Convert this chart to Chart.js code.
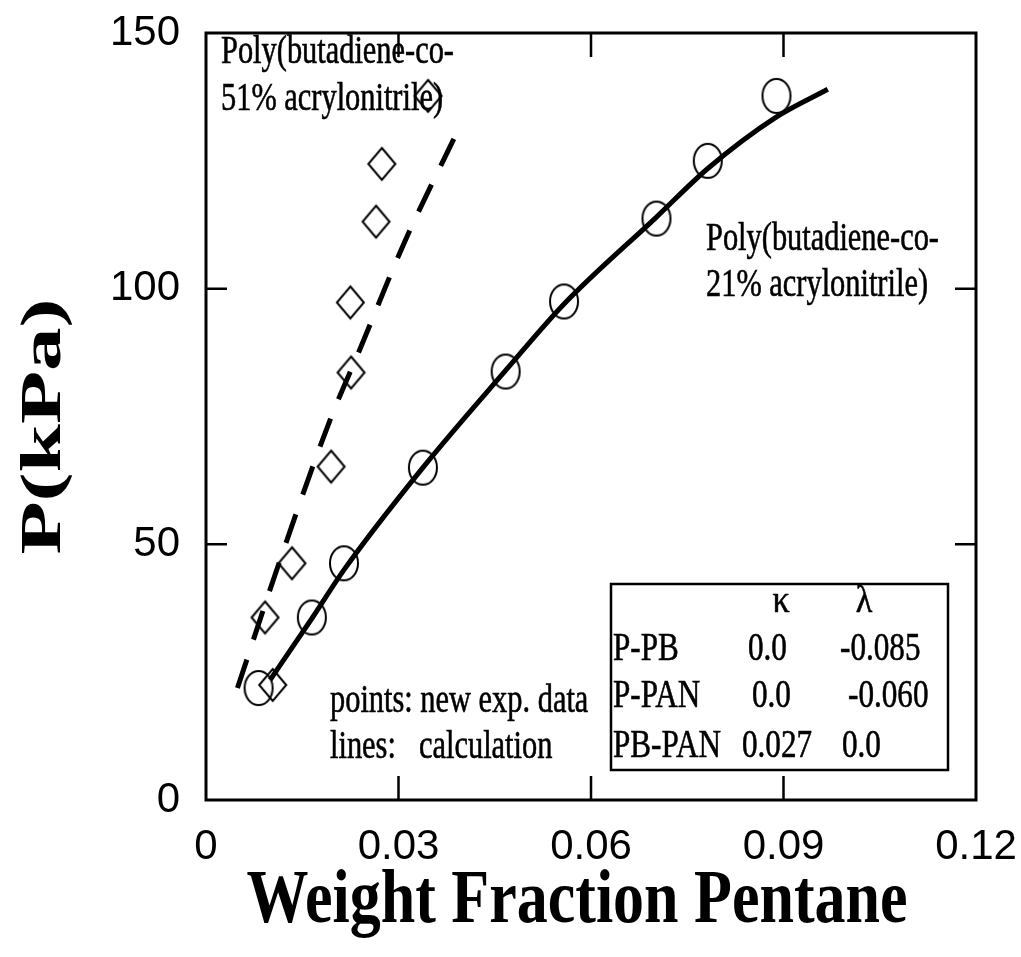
<!DOCTYPE html>
<html><head><meta charset="utf-8">
<script src="https://cdn.jsdelivr.net/npm/chart.js@4.4.0/dist/chart.umd.min.js"></script>
<style>html,body{margin:0;padding:0;background:#fff;} #wrap{width:1021px;height:957px;position:relative;}</style>
</head><body><div id="wrap"><canvas id="c"></canvas></div>
<script>
// ---- data ----
const xTickValues = [0, 0.03, 0.06, 0.09, 0.12];
const xTickLabels = ["0", "0.03", "0.06", "0.09", "0.12"];
const yTickValues = [0, 50, 100, 150];
const yTickLabels = ["0", "50", "100", "150"];
const xInnerTicks = [0.03, 0.06, 0.09];
const yInnerTicks = [50, 100];

// experimental points
const exp21X = [0.0082, 0.0165, 0.0215, 0.0338, 0.0467, 0.0558, 0.0702, 0.0782, 0.0889];
const exp21P = [21.9, 35.7, 46.3, 65.0, 83.8, 97.5, 113.7, 125.0, 137.7];
const exp51X = [0.0104, 0.0092, 0.0134, 0.0195, 0.0226, 0.0225, 0.0265, 0.0274, 0.0346];
const exp51P = [22.5, 35.7, 46.3, 65.2, 83.6, 97.3, 113.1, 124.4, 137.7];
// calculated curves
const calc21X = [0.0100, 0.0165, 0.0215, 0.0338, 0.0467, 0.0558, 0.0702, 0.0782, 0.0888, 0.0969];
const calc21P = [23.5, 35.5, 45.0, 65.0, 84.0, 97.0, 114.0, 123.5, 133.5, 139.0];
const calc51X = [0.0049, 0.0117, 0.0193, 0.0241, 0.0309, 0.0390];
const calc51P = [21.9, 47.5, 74.2, 88.5, 109.0, 130.3];

// text
const label51 = ["Poly(butadiene-co-", "51% acrylonitrile)"];
const label21 = ["Poly(butadiene-co-", "21% acrylonitrile)"];
const noteLines = ["points: new exp. data", "lines:", "calculation"];
const tableHeader = ["\u03BA", "\u03BB"];
const tableRows = ["P-PB", "P-PAN", "PB-PAN"];
const tableKappa = ["0.0", "0.0", "0.027"];
const tableLambda = ["-0.085", "-0.060", "0.0"];
const xTitle = "Weight Fraction Pentane";
const yTitle = "P(kPa)";

// ---- helpers ----
const pts = (xs, ys) => xs.map((x, i) => ({x: x, y: ys[i]}));

function ellipseImg(rx, ry, lw) {
  const c = document.createElement('canvas');
  c.width = Math.ceil(2 * rx + 2 * lw + 2); c.height = Math.ceil(2 * ry + 2 * lw + 2);
  const g = c.getContext('2d');
  g.strokeStyle = '#000'; g.lineWidth = lw;
  g.beginPath(); g.ellipse(c.width / 2, c.height / 2, rx, ry, 0, 0, Math.PI * 2); g.stroke();
  return c;
}
function diamondImg(hw, hh, lw) {
  const c = document.createElement('canvas');
  c.width = Math.ceil(2 * hw + 2 * lw + 2); c.height = Math.ceil(2 * hh + 2 * lw + 2);
  const g = c.getContext('2d');
  const cx = c.width / 2, cy = c.height / 2;
  g.strokeStyle = '#000'; g.lineWidth = lw; g.lineJoin = 'miter';
  g.beginPath(); g.moveTo(cx, cy - hh); g.lineTo(cx + hw, cy); g.lineTo(cx, cy + hh); g.lineTo(cx - hw, cy); g.closePath(); g.stroke();
  return c;
}

function txt(ctx, s, x, y, size, opts) {
  opts = opts || {};
  ctx.save();
  ctx.font = (opts.bold ? 'bold ' : '') + size + 'px "Liberation Serif", "Times New Roman", serif';
  ctx.fillStyle = '#000';
  ctx.translate(x, y);
  if (opts.rot) ctx.rotate(opts.rot);
  ctx.scale(opts.sx || 0.76, opts.sy || 1);
  ctx.textAlign = opts.align || 'left';
  ctx.textBaseline = opts.baseline || 'alphabetic';
  ctx.fillText(s, 0, 0);
  if (opts.stroke) { ctx.lineWidth = opts.stroke; ctx.strokeStyle = '#000'; ctx.strokeText(s, 0, 0); }
  ctx.restore();
}

const framePlugin = {
  id: 'frame',
  beforeDatasetsDraw(chart) {
    const {ctx, chartArea: a, scales: {x, y}} = chart;
    ctx.save();
    ctx.strokeStyle = '#000'; ctx.lineWidth = 3;
    ctx.strokeRect(a.left, a.top, a.right - a.left, a.bottom - a.top);
    ctx.lineWidth = 2.5;
    ctx.beginPath();
    xInnerTicks.forEach(v => {
      const px = x.getPixelForValue(v);
      ctx.moveTo(px, a.bottom); ctx.lineTo(px, a.bottom - 24);
      ctx.moveTo(px, a.top); ctx.lineTo(px, a.top + 24);
    });
    yInnerTicks.forEach(v => {
      const py = y.getPixelForValue(v);
      ctx.moveTo(a.left, py); ctx.lineTo(a.left + 21, py);
      ctx.moveTo(a.right, py); ctx.lineTo(a.right - 21, py);
    });
    ctx.stroke();
    ctx.restore();
  },
  afterDraw(chart) {
    const {ctx, chartArea: a} = chart;
    const o = {stroke: 0.6};
    // annotations
    txt(ctx, label51[0], 221, 63, 40, o);
    txt(ctx, label51[1], 221, 110, 40, o);
    txt(ctx, label21[0], 706, 250, 40, o);
    txt(ctx, label21[1], 706, 296, 40, o);
    txt(ctx, noteLines[0], 330, 712, 40, o);
    txt(ctx, noteLines[1], 330, 758, 40, o);
    txt(ctx, noteLines[2], 419, 758, 40, o);
    // table
    ctx.save(); ctx.strokeStyle = '#000'; ctx.lineWidth = 2.5;
    ctx.strokeRect(611, 584, 948 - 611, 770 - 584); ctx.restore();
    txt(ctx, tableHeader[0], 781, 612, 38, {align: 'center', sx: 0.9, stroke: 0.6});
    txt(ctx, tableHeader[1], 864, 612, 38, {align: 'center', sx: 0.9, stroke: 0.6});
    const base = [660, 707, 757];
    const kx = [748, 752, 742];
    const lx = [840, 848, 842];
    tableRows.forEach((r, i) => {
      txt(ctx, r, 613, base[i], 41, o);
      txt(ctx, tableKappa[i], kx[i], base[i], 41, o);
      txt(ctx, tableLambda[i], lx[i], base[i], 41, o);
    });
    // axis titles
    txt(ctx, xTitle, (a.left + a.right) / 2 - 14, 922, 62, {bold: true, sx: 1.0, sy: 1.22, align: 'center'});
    txt(ctx, yTitle, 60, (a.top + a.bottom) / 2 + 10, 60, {bold: true, sx: 1.45, sy: 0.95, align: 'center', rot: -Math.PI / 2});
  }
};

const circ = ellipseImg(14, 17, 2);
const diam = diamondImg(13.5, 16, 2);

new Chart(document.getElementById('c'), {
  type: 'scatter',
  data: {
    datasets: [
      {label: 'calc 21%', data: pts(calc21X, calc21P), showLine: true, borderColor: '#000', borderWidth: 5,
       pointRadius: 0, cubicInterpolationMode: 'monotone', fill: false},
      {label: 'calc 51%', data: pts(calc51X, calc51P), showLine: true, borderColor: '#000', borderWidth: 5,
       borderDash: [30, 21], pointRadius: 0, cubicInterpolationMode: 'monotone', fill: false},
      {label: 'exp 21%', data: pts(exp21X, exp21P), pointStyle: circ, pointRadius: 15, borderColor: '#000', backgroundColor: 'rgba(0,0,0,0)'},
      {label: 'exp 51%', data: pts(exp51X, exp51P), pointStyle: diam, pointRadius: 15, borderColor: '#000', backgroundColor: 'rgba(0,0,0,0)'}
    ]
  },
  options: {
    responsive: true, maintainAspectRatio: false, animation: false,
    layout: {padding: {top: 33, right: 45, left: 0, bottom: 0}},
    plugins: {legend: {display: false}, tooltip: {enabled: false}},
    scales: {
      x: {
        type: 'linear', min: 0, max: 0.12,
        afterBuildTicks: s => { s.ticks = xTickValues.map(v => ({value: v})); },
        afterFit: s => { s.height = 157; s.paddingLeft = 0; s.paddingRight = 0; },
        grid: {display: false, drawTicks: false}, border: {display: false},
        ticks: {color: '#000', font: {family: '"Liberation Sans", Arial, sans-serif', size: 42}, padding: 22,
                maxRotation: 0, autoSkip: false, callback: (v, i) => xTickLabels[i]}
      },
      y: {
        type: 'linear', min: 0, max: 150,
        afterBuildTicks: s => { s.ticks = yTickValues.map(v => ({value: v})); },
        afterFit: s => { s.width = 206; s.paddingTop = 0; s.paddingBottom = 0; },
        grid: {display: false, drawTicks: false}, border: {display: false},
        ticks: {color: '#000', font: {family: '"Liberation Sans", Arial, sans-serif', size: 42}, padding: 26,
                autoSkip: false, callback: (v, i) => yTickLabels[i]}
      }
    }
  },
  plugins: [framePlugin]
});
</script></body></html>
